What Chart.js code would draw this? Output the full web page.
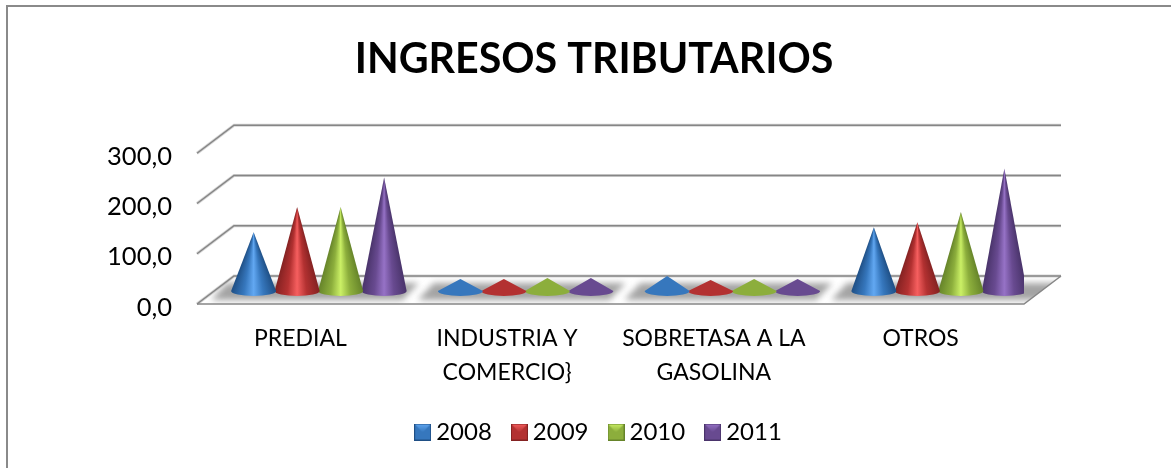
<!DOCTYPE html>
<html><head><meta charset="utf-8">
<style>html,body{margin:0;padding:0;background:#fff}#w{width:1171px;height:468px}</style>
<script src="https://cdn.jsdelivr.net/npm/chart.js@4/dist/chart.umd.js"></script>
</head><body><div id="w"><canvas id="c"></canvas></div>
<script>
const categories=[["PREDIAL"],["INDUSTRIA Y","COMERCIO}"],["SOBRETASA A LA","GASOLINA"],["OTROS"]];
const years=["2008","2009","2010","2011"];
const v2008=[117,24,30,127];
const v2009=[167,24,22,137];
const v2010=[167,26,24,157];
const v2011=[226,26,24,244];
const yTicks=[0,100,200,300];
const palette=[
 {edge:"#1f4f85",mid:"#3677bd",hi:"#62a8f2"},
 {edge:"#842222",mid:"#b33131",hi:"#f65f5f"},
 {edge:"#66842a",mid:"#8cae3c",hi:"#cbf066"},
 {edge:"#4a346b",mid:"#684a90",hi:"#9672c6"}];
const FONT="Lato, 'Open Sans', sans-serif";
const DX=37,DY=28;
const RX=22.5,RY=5;

Chart.BarElement.prototype.draw=function(ctx){
  const o=this.options,p=this.getProps(['x','y','base']);
  const x=p.x+DX/2,tip=p.y-DY/2+1,b=p.base-DY/2+1;
  const a=Math.atan2(RX,Math.max(b-tip,1));
  const g=ctx.createConicGradient(Math.PI/2-a,x,tip);
  const f=2*a/(2*Math.PI);
  const pal=palette.find(q=>q.mid===o.backgroundColor)||palette[0];
  const small=b-tip<30;
  g.addColorStop(0,small?pal.mid:pal.edge);g.addColorStop(f*.28,pal.mid);g.addColorStop(f*.5,small?pal.mid:pal.hi);
  g.addColorStop(f*.72,pal.mid);g.addColorStop(f,small?pal.mid:pal.edge);g.addColorStop(Math.min(f+.001,1),small?pal.mid:pal.edge);
  ctx.save();ctx.fillStyle=g;ctx.beginPath();ctx.moveTo(x,tip);ctx.lineTo(x+RX,b);
  ctx.ellipse(x,b,RX,RY,0,0,Math.PI);ctx.closePath();ctx.fill();ctx.restore();
};

function legendIcon(pal){
  const cv=document.createElement('canvas');cv.width=17;cv.height=17;const x=cv.getContext('2d');
  x.fillStyle=pal.edge;x.fillRect(0,0,17,17);
  x.fillStyle=pal.mid;x.fillRect(1,1,15,15);
  const g=x.createLinearGradient(0,0,0,9);g.addColorStop(0,pal.hi);g.addColorStop(1,pal.mid);
  x.fillStyle=g;x.beginPath();x.moveTo(1,1);x.lineTo(16,1);x.lineTo(8.5,9);x.closePath();x.fill();
  return cv;
}
const icons=palette.map(legendIcon);

const walls={id:'walls',
 afterLayout(ch){ch.legend.left+=7.5;ch.legend.right+=7.5;ch.scales.y.left=0;},
 beforeDraw(ch){
  const c=ch.ctx;c.save();
  c.fillStyle="#fff";c.fillRect(0,0,ch.width,ch.height);
  c.fillStyle="#8a8a8a";c.fillRect(6,5,2,ch.height-5);c.fillRect(6,5,ch.width-6,2);
  c.restore();
 },
 beforeDatasetsDraw(ch){
  const c=ch.ctx,y=ch.scales.y,xs=ch.scales.x,L=ch.chartArea.left,R=ch.chartArea.right,y0=y.getPixelForValue(0);
  c.save();
  const fp=()=>{c.beginPath();c.moveTo(L,y0);c.lineTo(R,y0);c.lineTo(R+DX,y0-DY);c.lineTo(L+DX,y0-DY);c.closePath();};
  c.save();fp();c.clip();c.filter="blur(3px)";c.fillStyle="#a4a4a4";
  categories.forEach((_,i)=>{
    const m=xs.getPixelForValue(i),w=xs.getPixelForValue(1)-xs.getPixelForValue(0);
    const l=m-w/2+14,r=m+w/2-1;
    c.beginPath();c.moveTo(l,y0-4);c.lineTo(i===3?r+40:r,y0-4);c.lineTo(i===3?r+60:r+16,y0-21);c.lineTo(l+16,y0-21);c.closePath();c.fill();
  });
  c.restore();c.filter="none";
  yTicks.forEach(t=>{
    const py=y.getPixelForValue(t);
    c.strokeStyle="rgba(134,134,134,.35)";c.lineWidth=3;
    c.beginPath();c.moveTo(L,py);c.lineTo(L+DX,py-DY);c.lineTo(R+DX,py-DY);c.stroke();
    c.strokeStyle="#868686";c.lineWidth=1.5;
    c.beginPath();c.moveTo(L,py);c.lineTo(L+DX,py-DY);c.lineTo(R+DX,py-DY);c.stroke();
  });
  c.strokeStyle="#868686";c.lineWidth=1.5;
  c.beginPath();c.moveTo(L,y0);c.lineTo(R,y0);c.lineTo(R+DX,y0-DY);c.stroke();
  c.restore();
 }};

new Chart(document.getElementById('c'),{
  type:'bar',
  data:{labels:categories,datasets:[v2008,v2009,v2010,v2011].map((d,i)=>({label:years[i],data:d,backgroundColor:palette[i].mid,pointStyle:icons[i],categoryPercentage:.8416,barPercentage:1}))},
  options:{responsive:true,maintainAspectRatio:false,animation:false,
    layout:{padding:{left:164,right:147,top:0,bottom:14}},
    plugins:{
      tooltip:{enabled:false},
      title:{display:true,text:"INGRESOS TRIBUTARIOS",color:"#000",font:{family:FONT,size:41.2,weight:'bold'},padding:{top:34.5,bottom:69.3}},
      legend:{position:'bottom',labels:{usePointStyle:true,boxWidth:3,boxHeight:17,color:"#000",font:{family:FONT,size:24},padding:26}}
    },
    scales:{
      x:{grid:{display:false},border:{display:false},
        ticks:{color:"#000",font:{family:FONT,size:23,lineHeight:1.478},padding:10,maxRotation:0,minRotation:0,autoSkip:false},
        afterFit(s){s.height=90;}},
      y:{min:0,max:300,grid:{display:false},border:{display:false},afterFit(s){s.width=33;},
        afterBuildTicks(s){s.ticks=yTicks.map(v=>({value:v}));},
        ticks:{color:"#000",font:{family:FONT,size:25.5},padding:17,labelOffset:3.5,callback:v=>v.toFixed(1).replace('.',',')}}
    }
  },
  plugins:[walls]
});
</script></body></html>
